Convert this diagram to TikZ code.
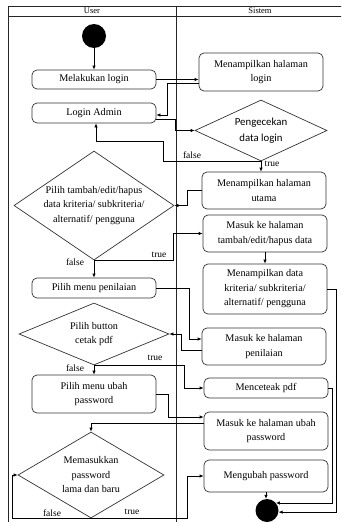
\documentclass[tikz,border=0pt]{standalone}
\usepackage{fontspec}
\setmainfont{Liberation Serif}
\newfontfamily\uisans{Carlito}
\usetikzlibrary{shapes.geometric,arrows.meta}
\begin{document}
\begin{tikzpicture}[x=1pt,y=-1pt,
  lane/.style={draw=black!85,line width=0.7pt},
  act/.style={draw=black!80,line width=0.7pt,rounded corners=5pt,minimum width=124pt,inner sep=0pt,align=center,font=\fontsize{10.2}{14.5}\selectfont},
  dec/.style={draw=black!80,line width=0.7pt,diamond,inner sep=0pt},
  dectext/.style={align=center,font=\fontsize{10.2}{14.5}\selectfont},
  flow/.style={draw=black,line width=0.7pt,-{Latex[length=4pt,width=3.5pt]}},
  guard/.style={font=\fontsize{9.5}{10}\selectfont,inner sep=0pt},
  dot/.style={circle,fill=black,inner sep=0pt,minimum size=24pt}]
\useasboundingbox (0,0) rectangle (341,522);
\clip (0,0) rectangle (341,522);

% swimlanes
\draw[lane] (8,530) -- (8,6) -- (345,6);
\draw[lane] (8,16) -- (345,16);
\draw[lane] (176,6) -- (176,530);
\node[font=\fontsize{8.5}{9}\selectfont,inner sep=0pt] (hu) at (92,11) {User};
\node[font=\fontsize{8.5}{9}\selectfont,inner sep=0pt] (hs) at (260,11) {Sistem};

% activities: user lane
\node[dot] (start) at (94,36) {};
\node[act,minimum height=19pt] (login) at (94,79.5) {Melakukan login};
\node[act,minimum height=20pt] (admin) at (94,113) {Login Admin};
\node[dec,minimum width=160pt,minimum height=109pt,
  label={[dectext]center:Pilih tambah/edit/hapus\\data kriteria/ subkriteria/\\alternatif/ pengguna}] (pilih) at (94,205.5) {};
\node[act,minimum height=20pt] (nilai) at (94,288) {Pilih menu penilaian};
\node[dec,minimum width=150pt,minimum height=62pt,
  label={[dectext]center:Pilih button\\cetak pdf}] (cetak) at (94,334) {};
\node[act,minimum height=38pt] (ubah) at (94,394) {Pilih menu ubah\\password};
\node[dec,minimum width=146pt,minimum height=86pt,
  label={[dectext]center:Memasukkan\\password\\lama dan baru}] (pass) at (91,475) {};

% activities: system lane
\node[act,minimum height=38pt] (mlogin) at (261,72) {Menampilkan halaman\\login};
\node[dec,minimum width=132pt,minimum height=61pt,
  label={[align=center,font=\uisans\fontsize{10.8}{16}\selectfont]center:Pengecekan\\data login}] (cek) at (261,130.5) {};
\node[act,minimum height=37pt] (utama) at (264,190.5) {Menampilkan halaman\\utama};
\node[act,minimum height=37pt] (tambah) at (265,233.5) {Masuk ke halaman\\tambah/edit/hapus data};
\node[act,minimum height=50pt] (data) at (265,289) {Menampilkan data\\kriteria/ subkriteria/\\alternatif/ pengguna};
\node[act,minimum height=37pt] (masuknilai) at (264,346.5) {Masuk ke halaman\\penilaian};
\node[act,minimum height=20pt] (pdf) at (266,388) {Menceteak pdf};
\node[act,minimum height=38pt] (masukubah) at (266,431) {Masuk ke halaman ubah\\password};
\node[act,minimum height=32pt] (ganti) at (266,476) {Mengubah password};
\node[dot,minimum size=23pt] (end) at (267,510.5) {};

% control flow
\draw[flow] (start) -- (login);
\draw[flow] (login.east) -- (login.east -| mlogin.west);
\draw[flow] ([yshift=-11pt]mlogin.west) -- ++(-31,0) |- ([yshift=-2pt]admin.east);
\draw[flow] ([yshift=-6pt]admin.east) -- ++(19,0) |- (cek.west);
\draw[flow] (cek.south) -- ++(-98,0) -- ++(0,-20) -| ([xshift=2pt]admin.south);
\node[guard] (f1) at (192,155) {false};
\draw[flow] (cek.south) -- (cek.south |- utama.north);
\node[guard] (t1) at (272,164) {true};
\draw[flow] (utama.west) -- ++(-14,0) |- (pilih.east);
\draw[flow] (pilih.south) -- ++(79,0) |- (tambah.west);
\node[guard] (t2) at (159,255) {true};
\draw[flow] (pilih.south) -- (nilai.north);
\node[guard] (f2) at (75,262) {false};
\draw[flow] (tambah.south) -- (data.north);
\draw[flow] (data.east) -- ++(9,0) |- (end.-8);
\draw[flow] (nilai.east) -- ++(33,0) |- ([yshift=7.5pt]masuknilai.west);
\draw[flow] ([yshift=-3.5pt]masuknilai.west) -- ++(-20,0) |- (cetak.east);
\draw[flow] (cetak.south) -- ++(90,0) |- (pdf.west);
\node[guard] (t3) at (155,358) {true};
\draw[flow] (cetak.south) -- (ubah.north);
\node[guard] (f3) at (75,368) {false};
\draw[flow] (pdf.east) -- ++(4,0) |- (end.40);
\draw[flow] (ubah.east) -- ++(12,0) |- ([yshift=14pt]masukubah.west);
\draw[flow] ([yshift=8pt]masukubah.west) -| (pass.north);
\draw[flow] (pass.south) -- ++(-79,0) |- (pass.west);
\node[guard] (f4) at (52,513) {false};
\draw[flow] (pass.south) -- ++(96,0) |- (ganti.west);
\node[guard] (t4) at (132,512) {true};
\draw[flow] (ganti.south) -- (ganti.south |- end.north);
\end{tikzpicture}
\end{document}
